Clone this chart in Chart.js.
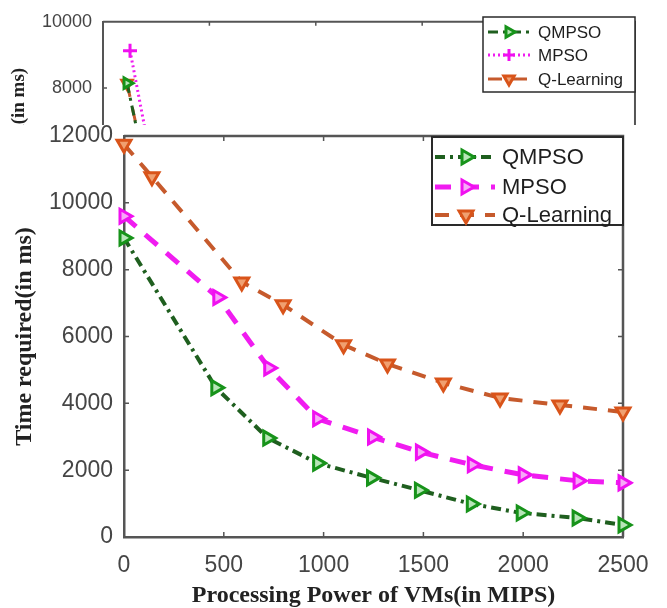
<!DOCTYPE html>
<html><head><meta charset="utf-8">
<script src="https://cdn.jsdelivr.net/npm/chart.js@4.4.1/dist/chart.umd.min.js"></script>
<style>
html,body{margin:0;padding:0;background:#fff;}
#wrap{position:relative;width:667px;height:608px;overflow:hidden;background:#fff;}
canvas{position:absolute;left:0;top:0;}
</style></head><body>
<div id="wrap"><canvas id="topChart" width="667" height="608"></canvas><canvas id="mainChart" width="667" height="608"></canvas></div>
<script>
// ---------- data ----------
const seriesNames = ['QMPSO', 'MPSO', 'Q-Learning'];
const xTickValues = [0, 500, 1000, 1500, 2000, 2500];
const yTickValues = [0, 2000, 4000, 6000, 8000, 10000, 12000];
const topYTickValues = [2000, 4000, 6000, 8000, 10000];

const qmpsoX = [0, 460, 720, 970, 1240, 1480, 1740, 1990, 2270, 2500];
const qmpsoY = [8950, 4470, 2960, 2210, 1770, 1400, 990, 720, 570, 360];
const mpsoX = [0, 470, 725, 970, 1245, 1485, 1745, 2000, 2275, 2500];
const mpsoY = [9600, 7170, 5060, 3540, 2990, 2540, 2160, 1860, 1680, 1620];
const qlX = [0, 140, 590, 797, 1100, 1320, 1600, 1884, 2184, 2500];
const qlY = [11750, 10780, 7630, 6950, 5750, 5180, 4610, 4160, 3950, 3740];

// partially visible chart behind (top strip)
const topQmpsoX = [113, 250];
const topQmpsoY = [8150, 4000];
const topMpsoX = [127, 250];
const topMpsoY = [9130, 5000];
const topQlX = [113, 250];
const topQlY = [8150, 4100];

// ---------- helpers ----------
const pts = (xs, ys) => xs.map((x, i) => ({x: x, y: ys[i]}));
const SANS = "'Liberation Sans', Arial, Helvetica, sans-serif";
const SERIF = "'Liberation Serif', 'Times New Roman', serif";

function drawMarker(ctx, style, rot, x, y, r, stroke, fill, bw) {
  ctx.save();
  ctx.strokeStyle = stroke; ctx.fillStyle = fill; ctx.lineWidth = bw; ctx.setLineDash([]);
  if (Chart.helpers && Chart.helpers.drawPoint) {
    Chart.helpers.drawPoint(ctx, {pointStyle: style, rotation: rot, radius: r, borderWidth: bw}, x, y);
  } else {
    const rad = rot * Math.PI / 180;
    ctx.beginPath();
    if (style === 'cross') {
      ctx.moveTo(x - r, y); ctx.lineTo(x + r, y); ctx.moveTo(x, y - r); ctx.lineTo(x, y + r);
      ctx.stroke();
    } else {
      for (let k = 0; k < 3; k++) {
        const a = rad + k * 2 * Math.PI / 3;
        const px = x + Math.sin(a) * r, py = y - Math.cos(a) * r;
        if (k === 0) ctx.moveTo(px, py); else ctx.lineTo(px, py);
      }
      ctx.closePath(); ctx.fill(); ctx.stroke();
    }
  }
  ctx.restore();
}

const boxPlugin = {
  id: 'box',
  beforeDraw(chart, args, o) {
    if (o.whiteTop != null) {
      const ctx = chart.ctx;
      ctx.save(); ctx.fillStyle = '#fff';
      ctx.fillRect(0, o.whiteTop, chart.width, chart.height - o.whiteTop);
      ctx.restore();
    }
  },
  beforeDatasetsDraw(chart, args, o) {
    const {ctx, chartArea: a, scales} = chart;
    const x = scales.x, y = scales.y;
    ctx.save();
    ctx.strokeStyle = o.color; ctx.lineWidth = o.width;
    ctx.beginPath();
    ctx.moveTo(a.left, a.top); ctx.lineTo(a.right, a.top); ctx.lineTo(a.right, a.bottom);
    ctx.stroke();
    ctx.lineWidth = 1.5;
    ctx.beginPath();
    x.ticks.forEach(t => {
      const px = x.getPixelForValue(t.value);
      if (px <= a.left + 1 || px >= a.right - 1) return;
      ctx.moveTo(px, a.bottom); ctx.lineTo(px, a.bottom - o.tick);
      ctx.moveTo(px, a.top); ctx.lineTo(px, a.top + o.tick);
    });
    y.ticks.forEach(t => {
      const py = y.getPixelForValue(t.value);
      if (py <= a.top + 1 || py >= a.bottom - 1) return;
      ctx.moveTo(a.left, py); ctx.lineTo(a.left + o.tick, py);
      ctx.moveTo(a.right, py); ctx.lineTo(a.right - o.tick, py);
    });
    ctx.stroke();
    ctx.restore();
  }
};

const legendPlugin = {
  id: 'mlegend',
  afterDraw(chart, args, o) {
    const ctx = chart.ctx;
    const b = o.box;
    ctx.save();
    ctx.fillStyle = '#fff';
    ctx.fillRect(b[0], b[1], b[2] - b[0], b[3] - b[1]);
    ctx.strokeStyle = '#2a2a2a'; ctx.lineWidth = o.boxWidth;
    ctx.strokeRect(b[0], b[1], b[2] - b[0], b[3] - b[1]);
    chart.data.datasets.forEach((ds, i) => {
      const yy = o.rows[i];
      ctx.save();
      ctx.strokeStyle = ds.borderColor; ctx.lineWidth = ds.borderWidth;
      ctx.setLineDash(ds.borderDash || []);
      ctx.beginPath(); ctx.moveTo(o.lineX[0], yy); ctx.lineTo(o.lineX[1], yy); ctx.stroke();
      ctx.restore();
      drawMarker(ctx, ds.pointStyle, ds.pointRotation || 0, o.markerX, yy, o.markerR,
        ds.pointBorderColor, ds.pointBackgroundColor, ds.pointBorderWidth);
      ctx.fillStyle = '#1e1e1e'; ctx.font = o.font;
      ctx.textBaseline = 'middle'; ctx.textAlign = 'left';
      ctx.fillText(ds.label, o.textX, yy + 1);
    });
    ctx.restore();
  }
};

const styles = [
  {line: '#1f5f1f', pt: '#17931a', fill: '#b8e6b8', dash: [10, 5, 3, 5], style: 'triangle', rot: 90},
  {line: '#f01cf0', pt: '#f010f0', fill: '#f7a8f7', dash: [16, 12], style: 'triangle', rot: 90},
  {line: '#c65a2c', pt: '#d9541a', fill: '#f0a070', dash: [14, 11], style: 'triangle', rot: 180}
];

function mkDs(i, xs, ys, opts) {
  const s = styles[i];
  return Object.assign({
    label: seriesNames[i], data: pts(xs, ys),
    borderColor: s.line, borderWidth: 4, borderDash: s.dash,
    pointStyle: s.style, pointRotation: s.rot, pointRadius: 8,
    pointBorderColor: s.pt, pointBackgroundColor: s.fill, pointBorderWidth: 3,
    tension: 0, fill: false, clip: false
  }, opts || {});
}

// ---------- top (partially hidden) chart ----------
new Chart(document.getElementById('topChart'), {
  type: 'line',
  data: {datasets: [
    mkDs(0, topQmpsoX, topQmpsoY, {borderWidth: 3, pointRadius: 6, clip: 6}),
    mkDs(1, topMpsoX, topMpsoY, {borderDash: [2, 3], borderWidth: 3, pointStyle: 'cross', pointRotation: 0, pointRadius: 7, clip: 8}),
    mkDs(2, topQlX, topQlY, {borderWidth: 3, pointRadius: 6, clip: 6})
  ]},
  plugins: [boxPlugin, legendPlugin],
  options: {
    responsive: false, animation: false, devicePixelRatio: 1,
    layout: {padding: {left: 0, top: 19, right: 32, bottom: 250}},
    scales: {
      x: {type: 'linear', min: 0, max: 2500,
        afterBuildTicks: s => { s.ticks = xTickValues.map(v => ({value: v})); },
        afterFit: s => { s.height = 71; },
        grid: {display: false, drawTicks: false},
        border: {color: '#555', width: 2},
        ticks: {font: {family: SANS, size: 18}, color: '#444', padding: 12, callback: v => String(v)}
      },
      y: {type: 'linear', min: 2000, max: 10000,
        afterBuildTicks: s => { s.ticks = topYTickValues.map(v => ({value: v})); },
        afterFit: s => { s.width = 103; },
        grid: {display: false, drawTicks: false},
        border: {color: '#555', width: 2},
        ticks: {font: {family: SANS, size: 18}, color: '#444', padding: 11, callback: v => String(v)},
        title: {display: true, text: 'Time required(in ms)', color: '#222',
          font: {family: SERIF, size: 19, weight: 'bold', lineHeight: 1}, padding: {top: 10, bottom: 0}}
      }
    },
    plugins: {
      legend: {display: false}, tooltip: {enabled: false},
      box: {color: '#555', width: 2, tick: 4},
      mlegend: {box: [483, 17, 635, 92], boxWidth: 1.5, rows: [32, 55, 79],
        lineX: [488, 530], markerX: 509, markerR: 6, textX: 538, font: '17px ' + SANS}
    }
  }
});

// ---------- main chart ----------
new Chart(document.getElementById('mainChart'), {
  type: 'line',
  data: {datasets: [
    mkDs(0, qmpsoX, qmpsoY),
    mkDs(1, mpsoX, mpsoY, {borderWidth: 5}),
    mkDs(2, qlX, qlY)
  ]},
  plugins: [boxPlugin, legendPlugin],
  options: {
    responsive: false, animation: false, devicePixelRatio: 1,
    layout: {padding: {left: 0, top: 136, right: 44, bottom: 0}},
    scales: {
      x: {type: 'linear', min: 0, max: 2500,
        afterBuildTicks: s => { s.ticks = xTickValues.map(v => ({value: v})); },
        afterFit: s => { s.height = 71; },
        grid: {display: false, drawTicks: false},
        border: {color: '#555', width: 2.5},
        ticks: {font: {family: SANS, size: 23}, color: '#454545', padding: 15, maxRotation: 0, callback: v => String(v)},
        title: {display: true, text: 'Processing Power of VMs(in MIPS)', color: '#222',
          font: {family: SERIF, size: 24, weight: 'bold', lineHeight: 1}, padding: {top: 0, bottom: 0}}
      },
      y: {type: 'linear', min: 0, max: 12000,
        afterBuildTicks: s => { s.ticks = yTickValues.map(v => ({value: v})); },
        afterFit: s => { s.width = 124; },
        grid: {display: false, drawTicks: false},
        border: {color: '#555', width: 2.5},
        ticks: {font: {family: SANS, size: 23}, color: '#454545', padding: 11, callback: v => String(v)},
        title: {display: true, text: 'Time required(in ms)', color: '#222',
          font: {family: SERIF, size: 24, weight: 'bold', lineHeight: 1}, padding: {top: 13, bottom: 0}}
      }
    },
    plugins: {
      legend: {display: false}, tooltip: {enabled: false},
      box: {color: '#555', width: 2.5, tick: 5, whiteTop: 125},
      mlegend: {box: [432, 137, 623, 225], boxWidth: 2, rows: [157, 187, 215],
        lineX: [435, 495], markerX: 466, markerR: 8, textX: 502, font: '22px ' + SANS}
    }
  }
});
</script>
</body></html>
